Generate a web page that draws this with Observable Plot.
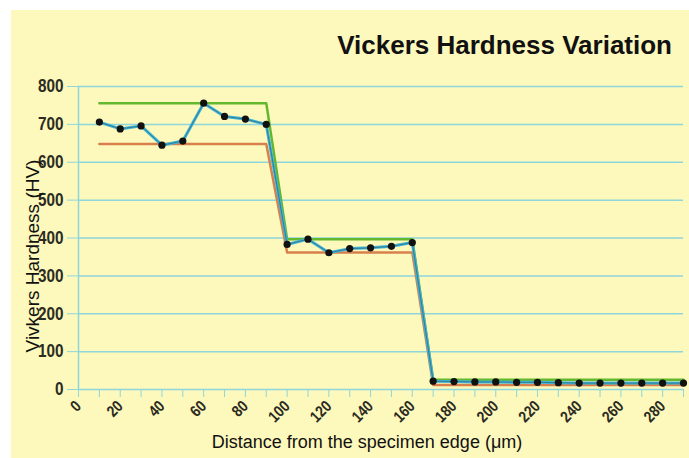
<!DOCTYPE html>
<html>
<head>
<meta charset="utf-8">
<script src="https://cdn.jsdelivr.net/npm/d3@7"></script>
<script src="https://cdn.jsdelivr.net/npm/@observablehq/plot@0.6"></script>
<style>
  html, body { margin: 0; padding: 0; background: #ffffff; }
  #wrap { position: relative; width: 689px; height: 458px; overflow: hidden; background: #ffffff; }
  #bg { position: absolute; left: 11px; top: 10px; right: 0; bottom: 0; background: #fdf8bb; }
  #chart { position: absolute; left: 0; top: 0; }
  .ttl { position: absolute; font-family: "Liberation Sans", Arial, sans-serif; color: #111; white-space: nowrap; }
  #title { right: 17px; top: 32px; font-size: 26px; line-height: 26px; font-weight: bold; }
  #xtitle { left: 367px; top: 433px; transform: translateX(-50%); font-size: 18px; line-height: 18px; }
  #ytitle { left: 32px; top: 256px; transform: translate(-50%, -50%) rotate(-90deg); font-size: 19px; line-height: 19px; }
</style>
</head>
<body>
<div id="wrap">
  <div id="bg"></div>
  <div id="chart"></div>
  <div id="title" class="ttl">Vickers Hardness Variation</div>
  <div id="xtitle" class="ttl">Distance from the specimen edge (μm)</div>
  <div id="ytitle" class="ttl">Vivkers Hardness (HV)</div>
</div>
<script>
// Measured hardness points
const distance = [10, 20, 30, 40, 50, 60, 70, 80, 90, 100, 110, 120, 130, 140, 150, 160, 170, 180, 190, 200, 210, 220, 230, 240, 250, 260, 270, 280, 290];
const hardness = [706, 688, 696, 645, 656, 756, 721, 714, 700, 383, 397, 361, 372, 374, 378, 388, 22, 21, 20, 20, 19, 19, 18, 17, 17, 17, 17, 17, 17];

// Upper envelope (green)
const upperX = [10, 90, 100, 160, 170, 290];
const upperY = [756, 756, 397, 397, 26, 26];

// Lower envelope (red)
const lowerX = [10, 90, 100, 160, 170, 290];
const lowerY = [648, 648, 362, 362, 12, 12];

// Ticks
const yTicks = [0, 100, 200, 300, 400, 500, 600, 700, 800];
const xMinorTicks = [0, 10, 20, 30, 40, 50, 60, 70, 80, 90, 100, 110, 120, 130, 140, 150, 160, 170, 180, 190, 200, 210, 220, 230, 240, 250, 260, 270, 280, 290];
const xLabelTicks = [0, 20, 40, 60, 80, 100, 120, 140, 160, 180, 200, 220, 240, 260, 280];

const measured = distance.map((d, i) => ({x: d, y: hardness[i]}));
const upper = upperX.map((d, i) => ({x: d, y: upperY[i]}));
const lower = lowerX.map((d, i) => ({x: d, y: lowerY[i]}));

const gridColor = "#8ed6dc";
const labelFont = '"Liberation Sans", Arial, sans-serif';

const chart = Plot.plot({
  width: 689,
  height: 458,
  marginLeft: 78,
  marginRight: 6,
  marginTop: 86,
  marginBottom: 69,
  style: {background: "transparent", overflow: "visible"},
  x: {domain: [0, 290], label: null},
  y: {domain: [0, 800], label: null},
  marks: [
    Plot.gridY(yTicks, {stroke: gridColor, strokeOpacity: 1, strokeWidth: 1.5, x1: 0, x2: 290}),
    Plot.ruleX([0], {stroke: gridColor, strokeWidth: 1.5}),
    Plot.axisY(yTicks, {
      tickSize: 11, tickPadding: 4, stroke: gridColor, strokeOpacity: 1,
      fill: "#2b2b22", fontSize: 18, fontWeight: "bold", fontFamily: labelFont,
      label: null
    }),
    Plot.axisX(xMinorTicks, {
      tickSize: 8, stroke: gridColor, strokeOpacity: 1, tickFormat: () => "", label: null
    }),
    Plot.axisX(xLabelTicks, {
      tickSize: 0, tickPadding: 14, tickRotate: -45,
      fill: "#2b2b22", fontSize: 16, fontWeight: "bold", fontFamily: labelFont,
      label: null
    }),
    Plot.line(upper, {x: "x", y: "y", stroke: "#63b82e", strokeWidth: 2.5}),
    Plot.line(lower, {x: "x", y: "y", stroke: "#d7804c", strokeWidth: 2.5}),
    Plot.line(measured, {x: "x", y: "y", stroke: "#3fb4d8", strokeWidth: 3}),
    Plot.line(measured, {x: "x", y: "y", stroke: "#1a1a1a", strokeWidth: 0.8, strokeOpacity: 0.45}),
    Plot.dot(measured, {x: "x", y: "y", r: 3.6, fill: "#111111", stroke: "none"})
  ]
});
// condense tick labels horizontally (narrow typeface look); each label's transform
// already translates to its anchor, so scaling afterwards keeps the anchor fixed
d3.select(chart).selectAll('g[aria-label$="tick label"] text').each(function() {
  const t = this.getAttribute("transform");
  if (t && t.includes("translate")) this.setAttribute("transform", t + " scale(0.85,1)");
});
document.getElementById("chart").appendChild(chart);
</script>
</body>
</html>
